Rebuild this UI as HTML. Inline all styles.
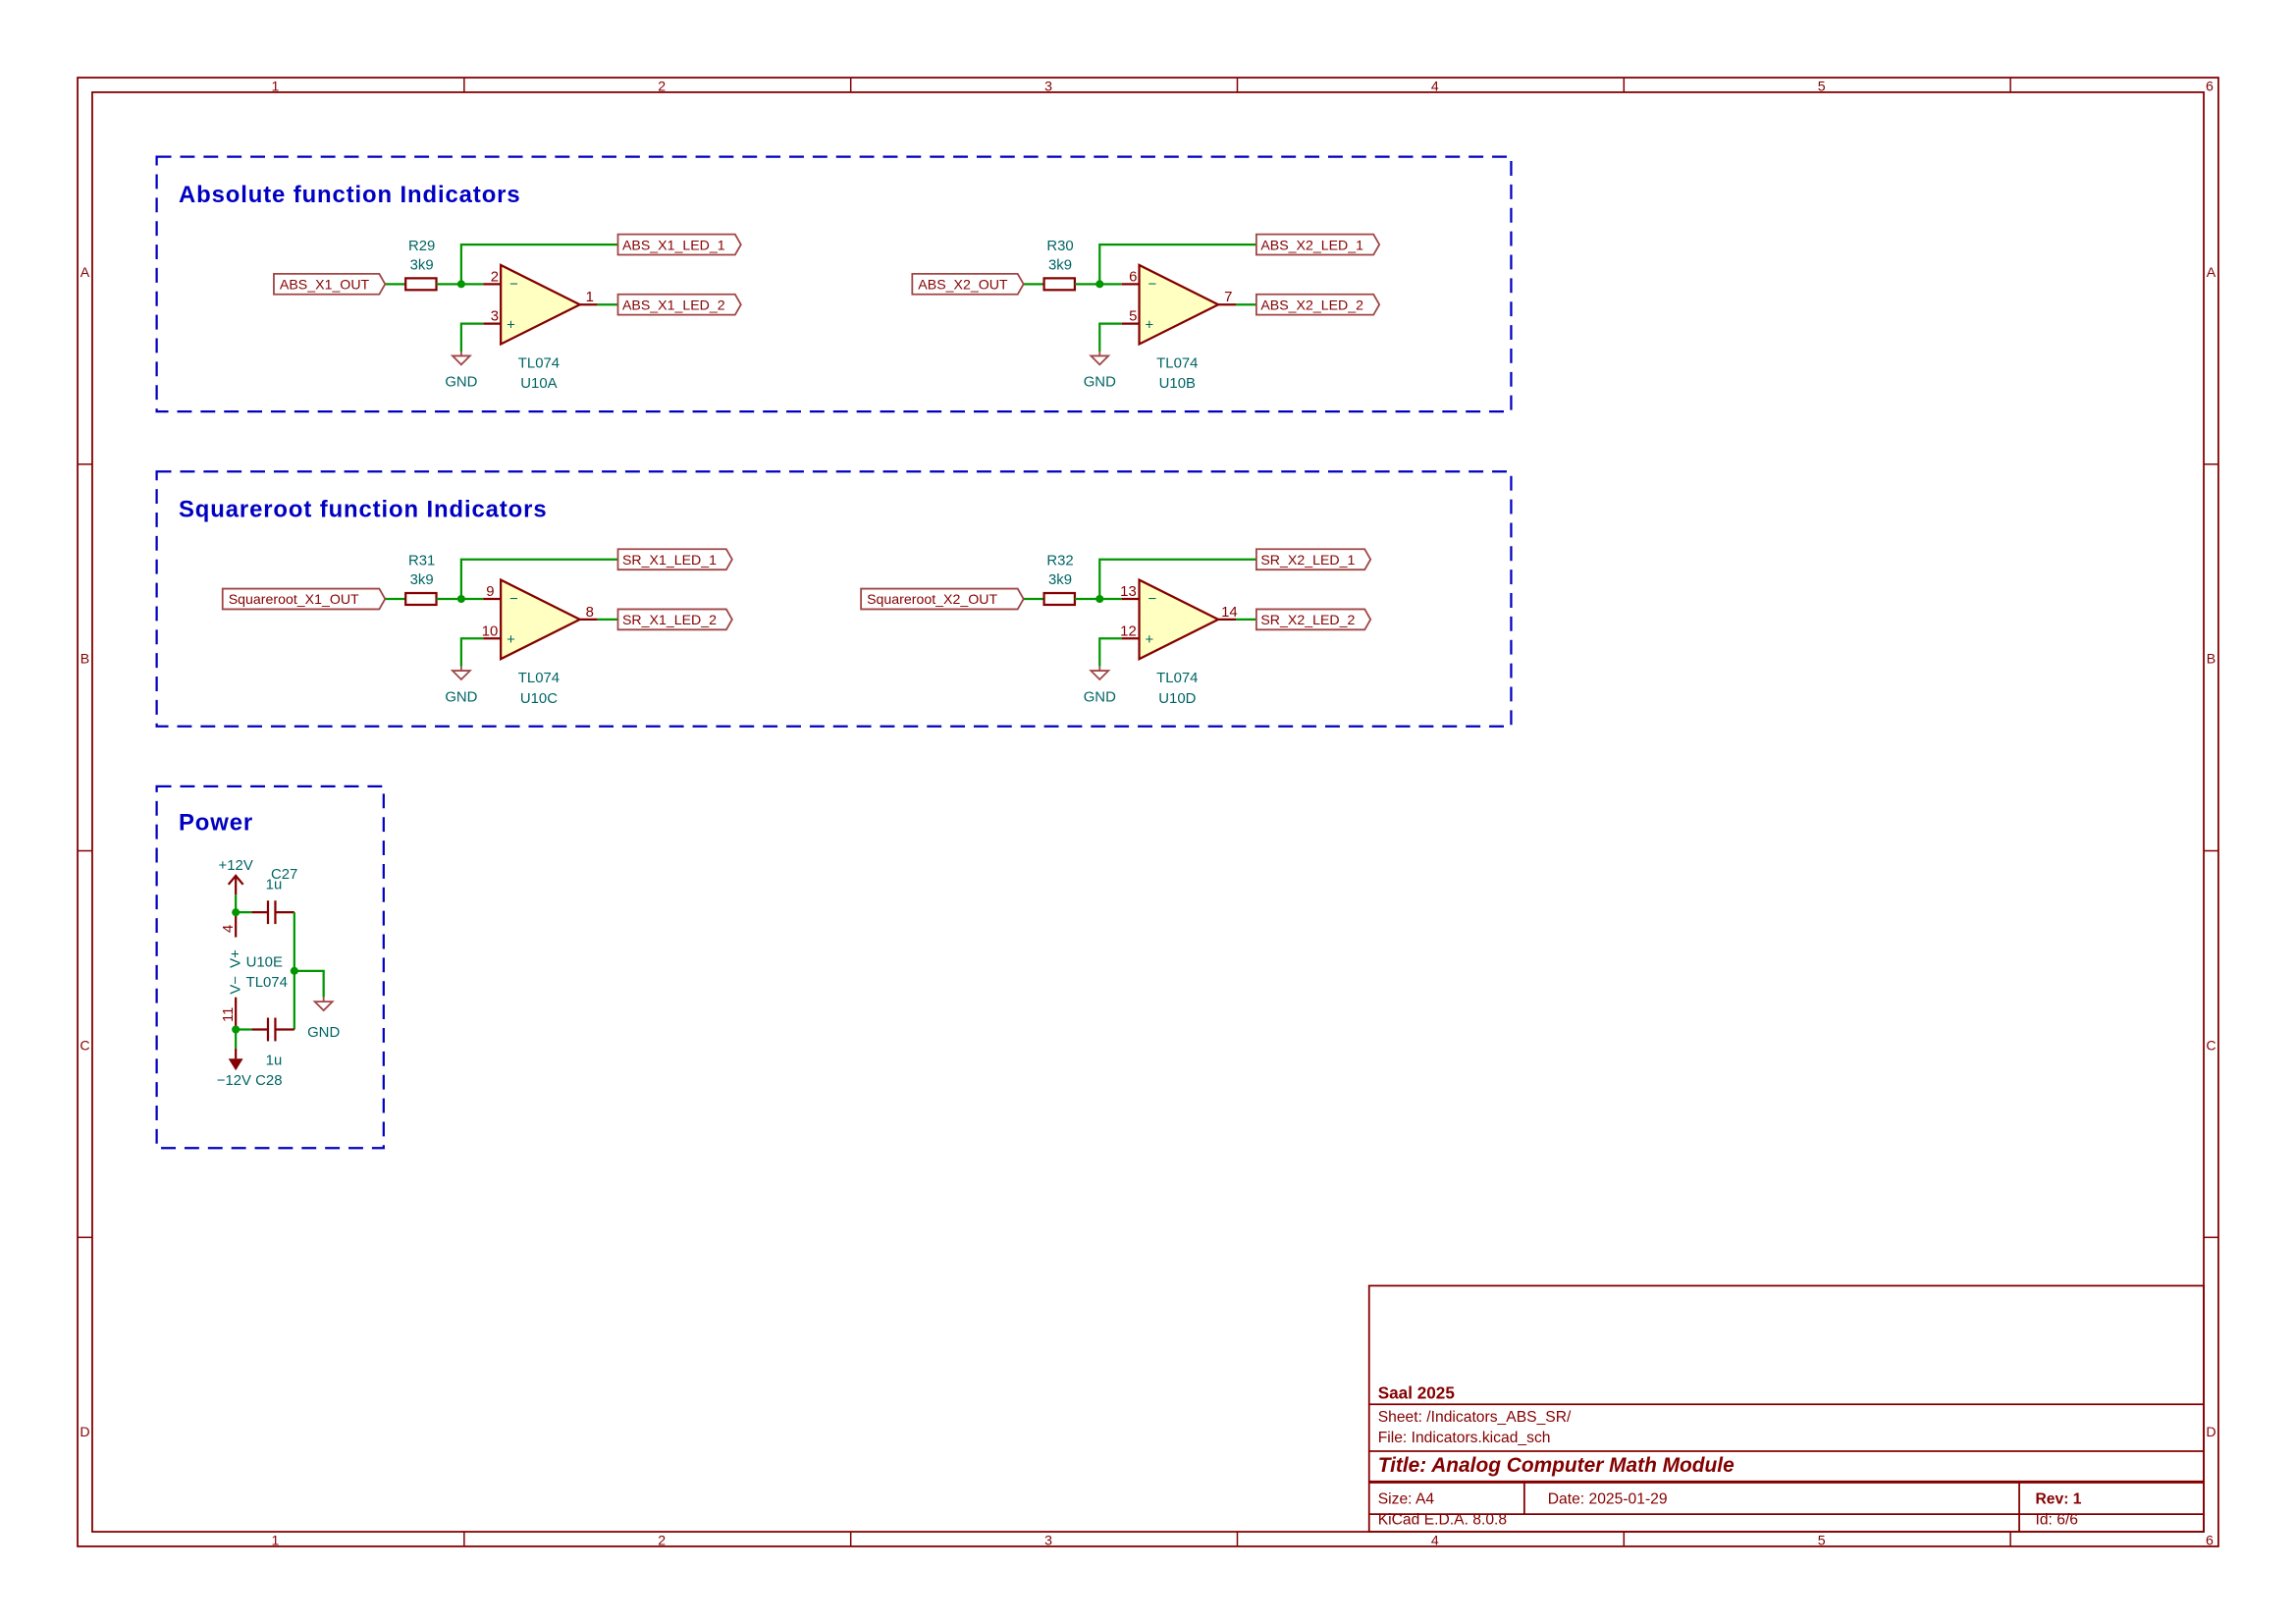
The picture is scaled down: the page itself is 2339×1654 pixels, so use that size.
<!DOCTYPE html>
<html><head><meta charset="utf-8"><style>
html,body{margin:0;padding:0;background:#fff;}
svg{display:block;}
text{font-family:"Liberation Sans",sans-serif;}
.t{fill:#006464;font-size:10px;}
.r{fill:#840000;font-size:10px;}
.lbl{fill:#840000;font-size:9.5px;}
.fr{fill:#840000;font-size:9.5px;}
.w{stroke:#009600;stroke-width:1.5;fill:none;}
.p{stroke:#840000;stroke-width:1.5;fill:none;}
.lb{stroke:#a04545;stroke-width:1.2;fill:#fff;}
.h{fill:#0000c2;font-size:16px;font-weight:bold;letter-spacing:0.6px;}
</style></head><body>
<svg width="2339" height="1654" viewBox="0 0 1568 1109" preserveAspectRatio="none" xmlns="http://www.w3.org/2000/svg">
<defs>
<g id="amp">
 <polyline class="w" points="-52,0 -38,0"/>
 <rect x="-38" y="-4" width="21" height="8" class="p"/>
 <polyline class="w" points="-17,0 15,0"/>
 <circle cx="0" cy="0" r="2.7" fill="#009600"/>
 <polyline class="w" points="0,0 0,-27 107,-27"/>
 <line class="p" x1="15" y1="0" x2="27" y2="0"/>
 <line class="p" x1="15" y1="27" x2="27" y2="27"/>
 <polyline class="w" points="15,27 0,27 0,46"/>
 <line x1="0" y1="46" x2="0" y2="49" stroke="#a04545" stroke-width="1.2"/>
 <polygon points="-6,49 6,49 0,55" fill="none" stroke="#a04545" stroke-width="1.2"/>
 <polygon points="27,-13 27,41 81,14" fill="#ffffc2" stroke="#840000" stroke-width="1.5"/>
 <line class="p" x1="81" y1="14" x2="93" y2="14"/>
 <line class="w" x1="93" y1="14" x2="107" y2="14"/>
 <text x="33" y="3" class="t">−</text>
 <text x="31" y="31" class="t">+</text>
 <text x="0" y="70" class="t" text-anchor="middle">GND</text>
</g>
</defs>
<rect x="53" y="53" width="1462" height="1003" fill="none" stroke="#840000" stroke-width="1.2"/>
<rect x="63" y="63" width="1442" height="983" fill="none" stroke="#840000" stroke-width="1.2"/>
<g stroke="#840000" stroke-width="1">
<line x1="317" y1="53" x2="317" y2="63"/><line x1="581" y1="53" x2="581" y2="63"/><line x1="845" y1="53" x2="845" y2="63"/><line x1="1109" y1="53" x2="1109" y2="63"/><line x1="1373" y1="53" x2="1373" y2="63"/>
<line x1="317" y1="1046" x2="317" y2="1056"/><line x1="581" y1="1046" x2="581" y2="1056"/><line x1="845" y1="1046" x2="845" y2="1056"/><line x1="1109" y1="1046" x2="1109" y2="1056"/><line x1="1373" y1="1046" x2="1373" y2="1056"/>
<line x1="53" y1="317" x2="63" y2="317"/><line x1="53" y1="581" x2="63" y2="581"/><line x1="53" y1="845" x2="63" y2="845"/>
<line x1="1505" y1="317" x2="1515" y2="317"/><line x1="1505" y1="581" x2="1515" y2="581"/><line x1="1505" y1="845" x2="1515" y2="845"/>
</g>
<g class="fr" text-anchor="middle">
<text x="188" y="62">1</text><text x="452" y="62">2</text><text x="716" y="62">3</text><text x="980" y="62">4</text><text x="1244" y="62">5</text><text x="1509" y="62">6</text>
<text x="188" y="1055">1</text><text x="452" y="1055">2</text><text x="716" y="1055">3</text><text x="980" y="1055">4</text><text x="1244" y="1055">5</text><text x="1509" y="1055">6</text>
<text x="58" y="189">A</text><text x="58" y="453">B</text><text x="58" y="717">C</text><text x="58" y="981">D</text>
<text x="1510" y="189">A</text><text x="1510" y="453">B</text><text x="1510" y="717">C</text><text x="1510" y="981">D</text>
</g>
<g fill="none" stroke="#0000c2" stroke-width="1.5" stroke-dasharray="10,6">
<rect x="107" y="107" width="925" height="174"/>
<rect x="107" y="322" width="925" height="174"/>
<rect x="107" y="537" width="155" height="247"/>
</g>
<text x="122" y="138" class="h">Absolute function Indicators</text>
<text x="122" y="353" class="h">Squareroot function Indicators</text>
<text x="122" y="567" class="h">Power</text>

<g transform="translate(315,194)"><use href="#amp"/>
<polygon class="lb" points="-128,-7 -56,-7 -52,0 -56,7 -128,7"/>
<text x="-124" y="3.5" class="lbl">ABS_X1_OUT</text>
<polygon class="lb" points="107,-34 187,-34 191,-27 187,-20 107,-20"/>
<text x="110" y="-23.5" class="lbl">ABS_X1_LED_1</text>
<polygon class="lb" points="107,7 187,7 191,14 187,21 107,21"/>
<text x="110" y="17.5" class="lbl">ABS_X1_LED_2</text>
<text x="-27" y="-23" class="t" text-anchor="middle">R29</text><text x="-27" y="-10" class="t" text-anchor="middle">3k9</text>
<text x="20" y="-2" class="r">2</text><text x="20" y="25" class="r">3</text><text x="85" y="12" class="r">1</text>
<text x="53" y="57" class="t" text-anchor="middle">TL074</text><text x="53" y="71" class="t" text-anchor="middle">U10A</text>
</g>
<g transform="translate(751,194)"><use href="#amp"/>
<polygon class="lb" points="-128,-7 -56,-7 -52,0 -56,7 -128,7"/>
<text x="-124" y="3.5" class="lbl">ABS_X2_OUT</text>
<polygon class="lb" points="107,-34 187,-34 191,-27 187,-20 107,-20"/>
<text x="110" y="-23.5" class="lbl">ABS_X2_LED_1</text>
<polygon class="lb" points="107,7 187,7 191,14 187,21 107,21"/>
<text x="110" y="17.5" class="lbl">ABS_X2_LED_2</text>
<text x="-27" y="-23" class="t" text-anchor="middle">R30</text><text x="-27" y="-10" class="t" text-anchor="middle">3k9</text>
<text x="20" y="-2" class="r">6</text><text x="20" y="25" class="r">5</text><text x="85" y="12" class="r">7</text>
<text x="53" y="57" class="t" text-anchor="middle">TL074</text><text x="53" y="71" class="t" text-anchor="middle">U10B</text>
</g>
<g transform="translate(315,409)"><use href="#amp"/>
<polygon class="lb" points="-163,-7 -56,-7 -52,0 -56,7 -163,7"/>
<text x="-159" y="3.5" class="lbl">Squareroot_X1_OUT</text>
<polygon class="lb" points="107,-34 181,-34 185,-27 181,-20 107,-20"/>
<text x="110" y="-23.5" class="lbl">SR_X1_LED_1</text>
<polygon class="lb" points="107,7 181,7 185,14 181,21 107,21"/>
<text x="110" y="17.5" class="lbl">SR_X1_LED_2</text>
<text x="-27" y="-23" class="t" text-anchor="middle">R31</text><text x="-27" y="-10" class="t" text-anchor="middle">3k9</text>
<text x="17" y="-2" class="r">9</text><text x="14" y="25" class="r">10</text><text x="85" y="12" class="r">8</text>
<text x="53" y="57" class="t" text-anchor="middle">TL074</text><text x="53" y="71" class="t" text-anchor="middle">U10C</text>
</g>
<g transform="translate(751,409)"><use href="#amp"/>
<polygon class="lb" points="-163,-7 -56,-7 -52,0 -56,7 -163,7"/>
<text x="-159" y="3.5" class="lbl">Squareroot_X2_OUT</text>
<polygon class="lb" points="107,-34 181,-34 185,-27 181,-20 107,-20"/>
<text x="110" y="-23.5" class="lbl">SR_X2_LED_1</text>
<polygon class="lb" points="107,7 181,7 185,14 181,21 107,21"/>
<text x="110" y="17.5" class="lbl">SR_X2_LED_2</text>
<text x="-27" y="-23" class="t" text-anchor="middle">R32</text><text x="-27" y="-10" class="t" text-anchor="middle">3k9</text>
<text x="14" y="-2" class="r">13</text><text x="14" y="25" class="r">12</text><text x="83" y="12" class="r">14</text>
<text x="53" y="57" class="t" text-anchor="middle">TL074</text><text x="53" y="71" class="t" text-anchor="middle">U10D</text>
</g>

<text x="161" y="594" class="t" text-anchor="middle">+12V</text>
<line class="p" x1="161" y1="598" x2="161" y2="611"/>
<polyline class="p" points="156,604 161,598 166,604"/>
<line class="w" x1="161" y1="611" x2="161" y2="623"/>
<line class="p" x1="161" y1="623" x2="161" y2="640"/>
<circle cx="161" cy="623" r="2.7" fill="#009600"/>
<line class="w" x1="161" y1="623" x2="172" y2="623"/>
<line class="p" x1="172" y1="623" x2="183" y2="623"/>
<line class="p" x1="183" y1="615" x2="183" y2="631"/>
<line class="p" x1="188" y1="615" x2="188" y2="631"/>
<line class="p" x1="188" y1="623" x2="201" y2="623"/>
<line class="w" x1="201" y1="623" x2="201" y2="703"/>
<circle cx="201" cy="663" r="2.7" fill="#009600"/>
<polyline class="w" points="201,663 221,663 221,681"/>
<line x1="221" y1="681" x2="221" y2="684" stroke="#a04545" stroke-width="1.2"/>
<polygon points="215,684 227,684 221,690" fill="none" stroke="#a04545" stroke-width="1.2"/>
<text x="221" y="708" class="t" text-anchor="middle">GND</text>
<line class="p" x1="161" y1="681" x2="161" y2="703"/>
<circle cx="161" cy="703" r="2.7" fill="#009600"/>
<line class="w" x1="161" y1="703" x2="172" y2="703"/>
<line class="p" x1="172" y1="703" x2="183" y2="703"/>
<line class="p" x1="183" y1="695" x2="183" y2="711"/>
<line class="p" x1="188" y1="695" x2="188" y2="711"/>
<line class="p" x1="188" y1="703" x2="201" y2="703"/>
<line class="w" x1="161" y1="703" x2="161" y2="716"/>
<polygon points="156,723 166,723 161,731" fill="#840000"/>
<line class="p" x1="161" y1="716" x2="161" y2="723"/>
<text x="148" y="741" class="t">−12V C28</text>
<text x="187" y="727" class="t" text-anchor="middle">1u</text>
<text x="185" y="600" class="t">C27</text>
<text x="187" y="607" class="t" text-anchor="middle">1u</text>
<text x="168" y="660" class="t">U10E</text>
<text x="168" y="674" class="t">TL074</text>
<text transform="translate(159,637) rotate(-90)" class="r">4</text>
<text transform="translate(164,661) rotate(-90)" class="t">V+</text>
<text transform="translate(164,679) rotate(-90)" class="t">V−</text>
<text transform="translate(159,698) rotate(-90)" class="r">11</text>

<g stroke="#840000" stroke-width="1.2" fill="none">
<rect x="935" y="878" width="570" height="168"/>
<line x1="935" y1="959" x2="1505" y2="959"/>
<line x1="935" y1="991" x2="1505" y2="991"/>
<line x1="935" y1="1012" x2="1505" y2="1012" stroke-width="2"/>
<line x1="935" y1="1034" x2="1505" y2="1034"/>
<line x1="1041" y1="1012" x2="1041" y2="1034"/>
<line x1="1379" y1="1012" x2="1379" y2="1046"/>
</g>
<g fill="#840000">
<text x="941" y="955" font-size="11.5" font-weight="bold">Saal 2025</text>
<text x="941" y="971" font-size="10.5">Sheet: /Indicators_ABS_SR/</text>
<text x="941" y="985" font-size="10.5">File: Indicators.kicad_sch</text>
<text x="941" y="1005" font-size="14" font-weight="bold" font-style="italic">Title: Analog Computer Math Module</text>
<text x="941" y="1027" font-size="10.5">Size: A4</text>
<text x="1057" y="1027" font-size="10.5">Date: 2025-01-29</text>
<text x="1390" y="1027" font-size="10.5" font-weight="bold">Rev: 1</text>
<text x="941" y="1041" font-size="10.5">KiCad E.D.A. 8.0.8</text>
<text x="1390" y="1041" font-size="10.5">Id: 6/6</text>
</g>
</svg>
</body></html>
